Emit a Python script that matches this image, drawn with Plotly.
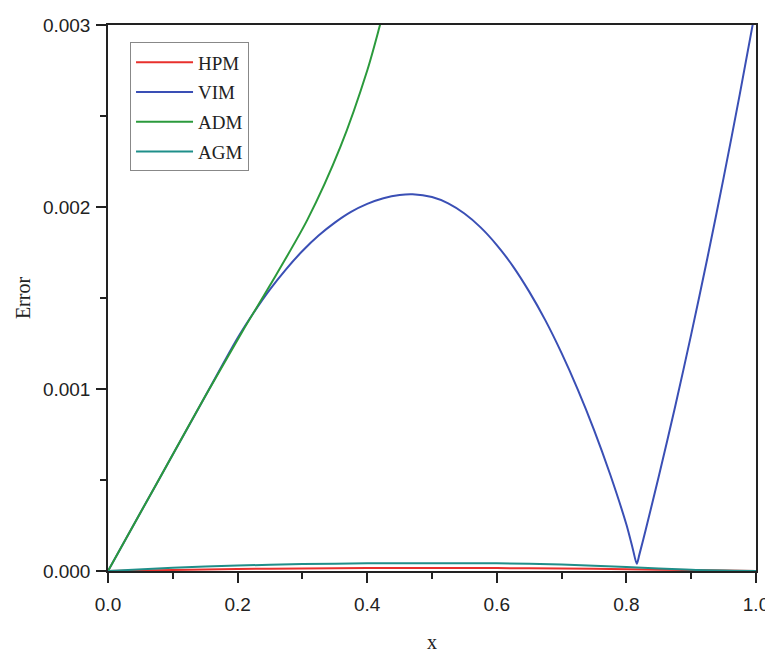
import plotly.graph_objects as go

# ---- data ----
x_hpm = [0.0, 0.1, 0.2, 0.3, 0.4, 0.5, 0.6, 0.7, 0.8, 0.9, 1.0]
y_hpm = [0.0, 0.000006, 0.000011, 0.000014, 0.000016, 0.000017, 0.000016, 0.000014, 0.000010, 0.000005, 0.0]

x_vim = [0.0, 0.05, 0.10, 0.15, 0.20, 0.225, 0.25, 0.275, 0.30, 0.325, 0.35, 0.375,
         0.40, 0.425, 0.45, 0.47, 0.50, 0.525, 0.55, 0.575, 0.60, 0.625, 0.65, 0.675,
         0.70, 0.725, 0.75, 0.775, 0.80, 0.81, 0.816, 0.82, 0.83, 0.85, 0.875, 0.90,
         0.925, 0.95, 0.975, 1.0]
y_vim = [0.0, 0.00032, 0.00064, 0.00096, 0.00128, 0.00142, 0.001547, 0.001659, 0.001758,
         0.001843, 0.001914, 0.001973, 0.002017, 0.002048, 0.002066, 0.00207, 0.002055,
         0.00202, 0.001964, 0.001888, 0.001791, 0.001674, 0.001535, 0.001377, 0.001197,
         0.000997, 0.000776, 0.000530, 0.000255, 0.000120, 0.000040, 0.000090, 0.000230,
         0.000520, 0.000900, 0.001300, 0.001720, 0.002160, 0.002620, 0.003100]

x_adm = [0.0, 0.05, 0.10, 0.15, 0.2087, 0.25, 0.3076, 0.3586, 0.4003, 0.419, 0.43]
y_adm = [0.0, 0.00032, 0.00064, 0.00096, 0.001324, 0.00157, 0.001929, 0.00233, 0.002753,
         0.00299, 0.00314]

x_agm = [0.0, 0.1, 0.2, 0.3, 0.4, 0.5, 0.6, 0.7, 0.8, 0.9, 1.0]
y_agm = [0.0, 0.000018, 0.000030, 0.000038, 0.000042, 0.000043, 0.000042, 0.000036, 0.000022, 0.000007, 0.0]

series = [
    ("HPM", x_hpm, y_hpm, "#e8302c"),
    ("VIM", x_vim, y_vim, "#3a4fb5"),
    ("ADM", x_adm, y_adm, "#2b9a3c"),
    ("AGM", x_agm, y_agm, "#1f8f8a"),
]

x_ticks = [0.0, 0.2, 0.4, 0.6, 0.8, 1.0]
y_ticks = [0.0, 0.001, 0.002, 0.003]

fig = go.Figure()
for name, xs, ys, col in series:
    fig.add_trace(go.Scatter(x=xs, y=ys, name=name, mode="lines",
                             line=dict(color=col, width=2, shape="spline", smoothing=0.8),
                             legendgroup=name))

axis_common = dict(
    showgrid=False, zeroline=False, showline=True, linecolor="#222222", linewidth=1.5,
    mirror=True, ticks="outside", ticklen=10, tickwidth=1.5, tickcolor="#222222",
    automargin=False, ticklabeloverflow="allow",
    tickfont=dict(family="Liberation Sans, Arial, sans-serif", size=19, color="#222222"),
)

serif = "Liberation Serif, Times New Roman, serif"

fig.update_layout(
    width=765, height=645,
    margin=dict(l=100, r=17, t=17, b=82),
    paper_bgcolor="white", plot_bgcolor="white",
    showlegend=True,
    legend=dict(
        x=0.034, y=0.968, xanchor="left", yanchor="top",
        bordercolor="#888888", borderwidth=1, bgcolor="white",
        font=dict(family=serif, size=19, color="#222222"),
        tracegroupgap=2, traceorder="grouped", itemwidth=57,
    ),
    xaxis=dict(
        range=[0, 1], tickvals=x_ticks, tickformat=".1f", ticklabelstandoff=5,
        minor=dict(ticks="outside", ticklen=6, dtick=0.1, tickcolor="#222222", tickwidth=1.5),
        title=dict(text="x", font=dict(family=serif, size=20, color="#222222"), standoff=34),
        **axis_common,
    ),
    yaxis=dict(
        range=[0, 0.003], tickvals=y_ticks, tickformat=".3f", ticklabelstandoff=2,
        minor=dict(ticks="outside", ticklen=6, dtick=0.0005, tickcolor="#222222", tickwidth=1.5),
        title=dict(text="Error", font=dict(family=serif, size=20, color="#222222"), standoff=7),
        **axis_common,
    ),
)

fig.write_html("out.html")
